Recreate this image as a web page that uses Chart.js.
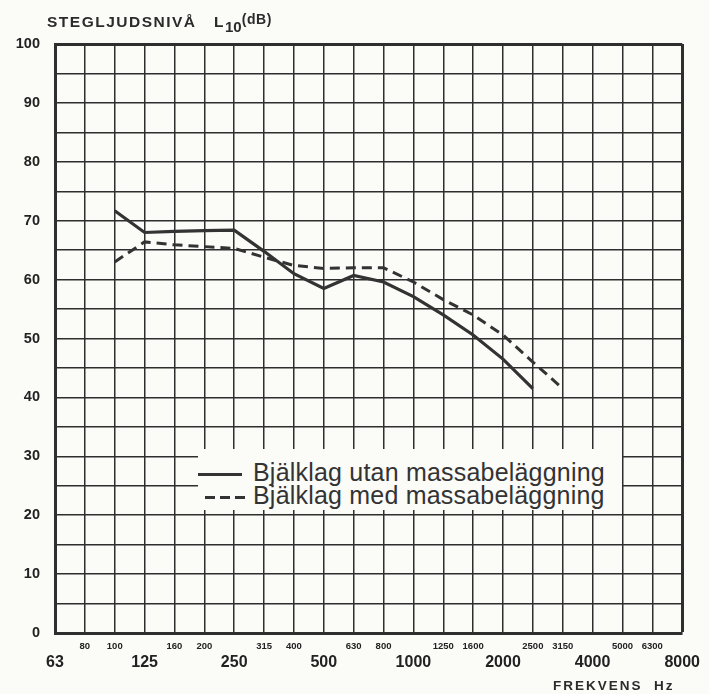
<!DOCTYPE html>
<html>
<head>
<meta charset="utf-8">
<script src="https://cdn.jsdelivr.net/npm/chart.js@4.4.0/dist/chart.umd.min.js"></script>
<style>
  html, body { margin: 0; padding: 0; background: #fbfbf8; }
  #wrap { position: relative; width: 709px; height: 694px; font-family: "Liberation Sans", Arial, sans-serif; color: #2b2b2b; }
  #c { position: absolute; left: 0; top: 0; }
  .ylab { position: absolute; left: 47px; top: 13px; font-weight: bold; font-size: 15.5px; letter-spacing: 1.5px; white-space: nowrap; }
  .ylab sub { font-size: 15px; vertical-align: -5px; letter-spacing: 0; }
  .ylab .u { font-size: 14px; position: relative; top: -3px; letter-spacing: 0.6px; }
  .xlab { position: absolute; left: 553px; top: 678px; font-weight: bold; font-size: 13.5px; letter-spacing: 2px; }
  #legend { position: absolute; left: 198px; top: 449px; width: 424px; height: 61px; background: #fbfbf8; }
  .row { position: absolute; left: 0; font-size: 25px; line-height: 24px; letter-spacing: 0.2px; white-space: nowrap; color: #333; }
  .row .s { display: inline-block; width: 44px; height: 3px; vertical-align: middle; margin-right: 11px; }
  .solid { background: #333; }
  .dash { background: repeating-linear-gradient(90deg, #333 0 10px, transparent 10px 15px); }
</style>
</head>
<body>
<div id="wrap">
  <canvas id="c" width="709" height="694"></canvas>
  <div class="ylab">STEGLJUDSNIVÅ &nbsp;&nbsp;L<sub>10</sub><span class="u">(dB)</span></div>
  <div class="xlab">FREKVENS &nbsp;Hz</div>
  <div id="legend">
    <div class="row" style="top:11px"><span class="s solid"></span>Bjälklag utan massabeläggning</div>
    <div class="row" style="top:34px; left:7px"><span class="s dash" style="width:41px;margin-right:7px"></span>Bjälklag med massabeläggning</div>
  </div>
</div>
<script>
// third-octave bands, 63 Hz .. 8000 Hz
var bands = ['63', '80', '100', '125', '160', '200', '250', '315', '400', '500', '630',
             '800', '1000', '1250', '1600', '2000', '2500', '3150', '4000', '5000', '6300', '8000'];
// labels printed on the lower (bigger) row
var octaveLabels = ['63', '125', '250', '500', '1000', '2000', '4000', '8000'];

var utanMassa = [null, null, 71.7, 68, 68.2, 68.3, 68.4, 64.8, 61, 58.5, 60.7,
                 59.6, 57.1, 54, 50.6, 46.5, 41.5, null, null, null, null, null];
var medMassa = [null, null, 63, 66.4, 65.9, 65.6, 65.3, 63.8, 62.4, 61.9, 62,
                62, 59.6, 56.6, 54, 50.6, 46, 41.5, null, null, null, null];

var ink = '#2e2e2e';

var ctx = document.getElementById('c');
var chart = new Chart(ctx, {
  type: 'line',
  data: {
    labels: bands,
    datasets: [
      {
        label: 'Bjälklag utan massabeläggning',
        data: utanMassa,
        borderColor: '#333',
        borderWidth: 3.2,
        pointRadius: 0,
        tension: 0,
        spanGaps: false
      },
      {
        label: 'Bjälklag med massabeläggning',
        data: medMassa,
        borderColor: '#333',
        borderWidth: 3,
        borderDash: [10, 6],
        pointRadius: 0,
        tension: 0,
        spanGaps: false
      }
    ]
  },
  options: {
    responsive: false,
    animation: false,
    layout: { padding: { left: 0, right: 26, top: 44, bottom: 0 } },
    plugins: { legend: { display: false }, tooltip: { enabled: false } },
    scales: {
      x: {
        type: 'category',
        offset: false,
        afterFit: function (scale) { scale.height = 61; },
        border: { display: true, color: ink, width: 3 },
        grid: {
          color: ink,
          drawTicks: false,
          lineWidth: function (c) { return c.index === bands.length - 1 ? 3 : 1.5; }
        },
        ticks: {
          autoSkip: false,
          maxRotation: 0,
          padding: 9,
          color: '#222',
          callback: function (v, i) {
            var lab = bands[i];
            return octaveLabels.indexOf(lab) >= 0 ? ['', lab] : lab;
          },
          font: function (c) {
            var lab = bands[c.index];
            if (octaveLabels.indexOf(lab) >= 0) {
              return { family: 'Liberation Sans', weight: 'bold', size: 16, lineHeight: 0.85 };
            }
            return { family: 'Liberation Sans', weight: 'bold', size: 9.5, lineHeight: 1 };
          }
        }
      },
      y: {
        min: 0,
        max: 100,
        afterFit: function (scale) { scale.width = 55; },
        border: { display: true, color: ink, width: 3 },
        grid: {
          color: ink,
          drawTicks: false,
          lineWidth: function (c) { return c.tick && c.tick.value === 100 ? 3 : 1.5; }
        },
        ticks: {
          stepSize: 5,
          padding: 15,
          color: '#222',
          font: { family: 'Liberation Sans', weight: 'bold', size: 14.5 },
          callback: function (v) { return v % 10 === 0 ? v : ''; }
        }
      }
    }
  }
});
</script>
</body>
</html>
